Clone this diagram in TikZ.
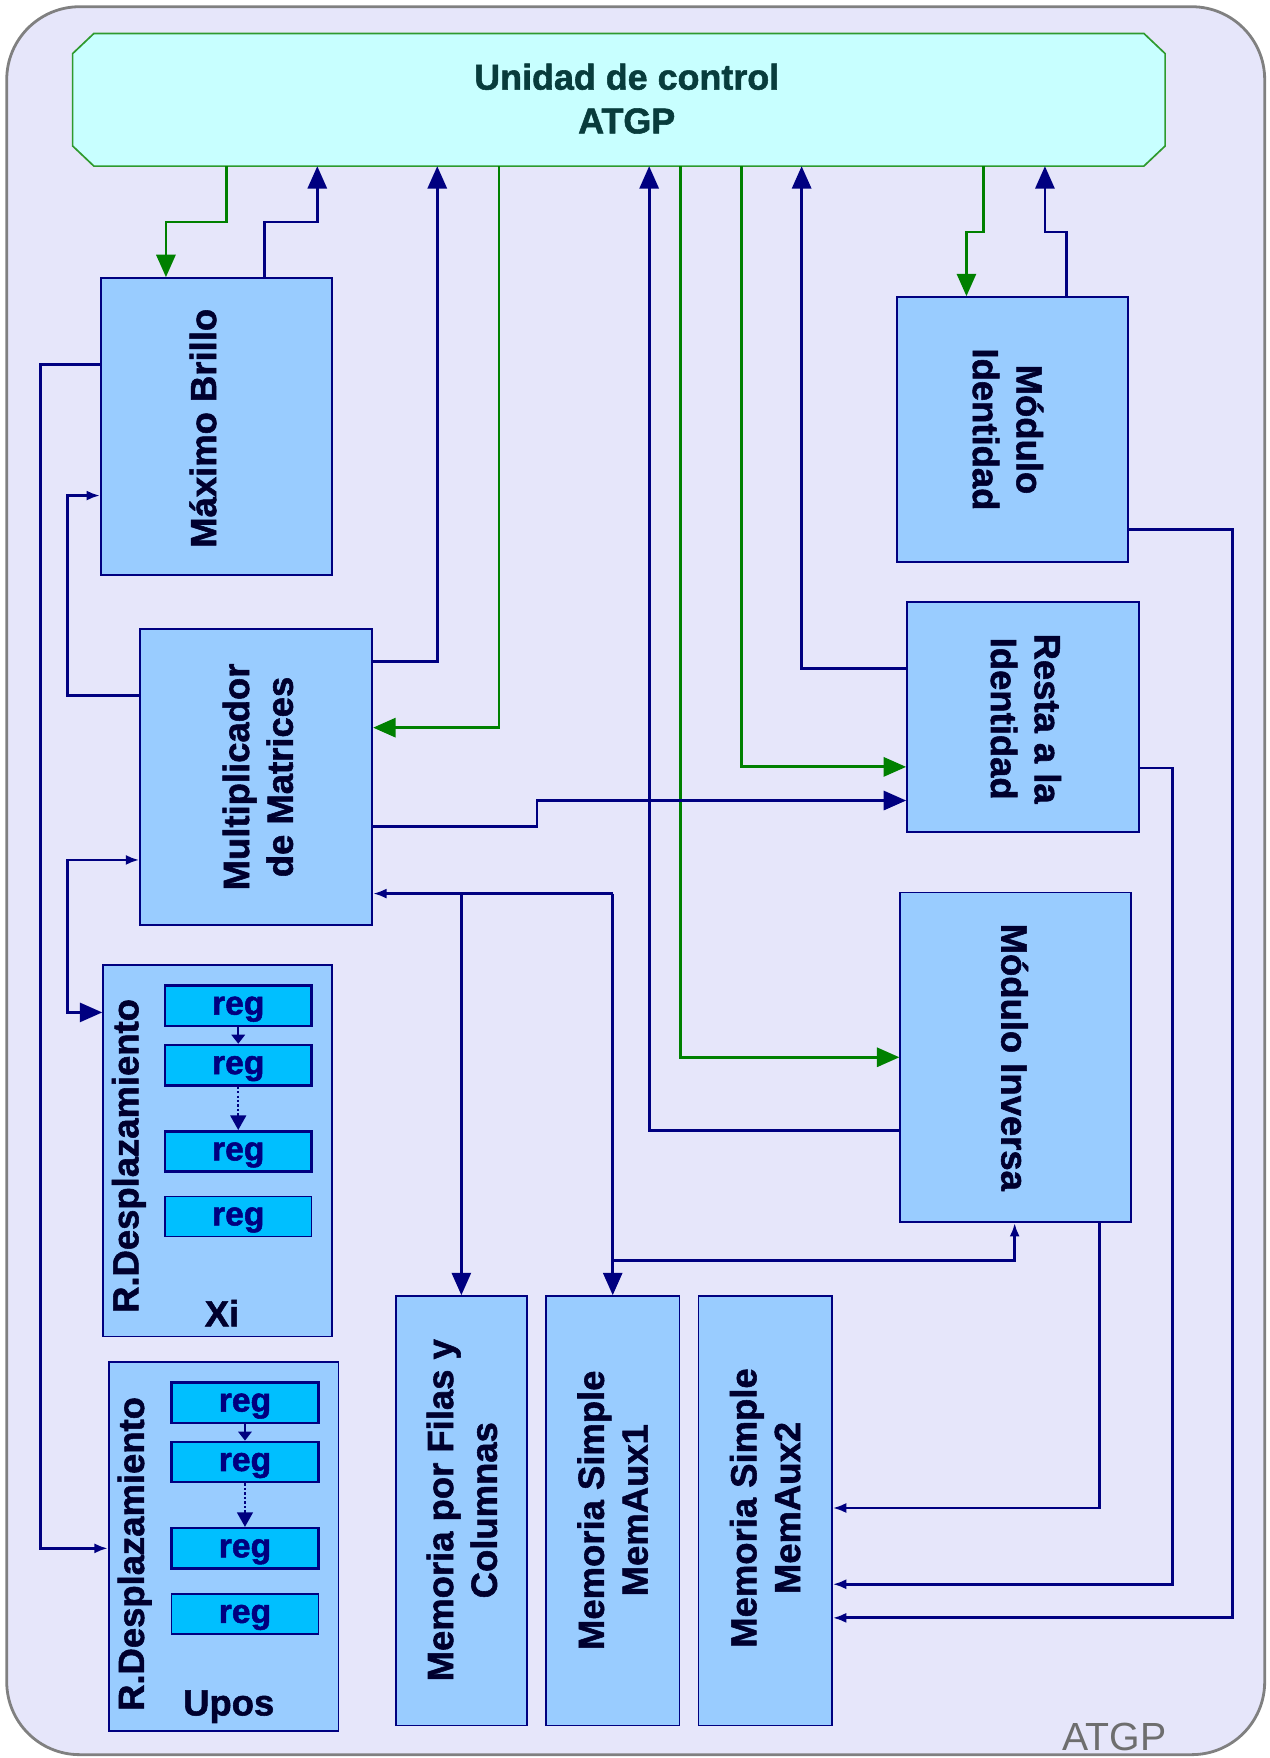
\documentclass[tikz,border=0pt]{standalone}
\usepackage{fontspec}
\setmainfont{Liberation Sans}[BoldFeatures={FakeBold=1.5}]
\usetikzlibrary{arrows.meta,calc}

\definecolor{bgfill}{HTML}{E6E6FA}
\definecolor{framegray}{HTML}{808080}
\definecolor{cufill}{HTML}{C8FFFF}
\definecolor{cuedge}{HTML}{2E9A2E}
\definecolor{blkfill}{HTML}{99CCFF}
\definecolor{navy}{HTML}{000080}
\definecolor{sig}{HTML}{008000}
\definecolor{regfill}{HTML}{00BFFF}
\definecolor{lbl}{HTML}{00002E}
\definecolor{cutext}{HTML}{083C3C}
\definecolor{markgray}{HTML}{6E6E6E}

\tikzset{
  blk/.style={draw=navy, line width=1.6pt, fill=blkfill, inner sep=0pt},
  regbox/.style={draw=navy, line width=2.2pt, fill=regfill, minimum width=131pt,
    minimum height=36pt, inner sep=0pt, text=navy,
    font=\fontsize{30}{36}\selectfont\bfseries, text height=20pt, text depth=4pt},
  lab/.style={font=\fontsize{32.5}{39}\selectfont\bfseries, text=lbl, align=center, inner sep=0pt},
  bline/.style={draw=navy, line width=2.5pt},
  gline/.style={draw=sig, line width=2.5pt},
  BigHead/.tip={Triangle[length=20pt,width=17pt]},
  SmallHead/.tip={Latex[length=12pt,width=9pt]},
  RegHead/.tip={Triangle[length=8pt,width=12pt]},
  DotHead/.tip={Triangle[length=13pt,width=14pt]},
}

\begin{document}
\begin{tikzpicture}[x=1pt,y=-1pt]
\useasboundingbox (0,0) rectangle (1132,1568);

% outer frame
\draw[fill=bgfill, draw=framegray, line width=2.5pt, rounded corners=65pt] (6,6) rectangle (1128,1565);
\node[font=\fontsize{35}{42}\selectfont, text=markgray, anchor=base, inner sep=0pt] (atgp) at (994,1561) {ATGP};

% control unit (chamfered box)
\node[minimum width=974pt, minimum height=118pt, inner sep=0pt] (cu) at (552,89) {};
\filldraw[fill=cufill, draw=cuedge, line width=1.5pt]
  ([xshift=19pt]cu.north west) -- ([xshift=-19pt]cu.north east) -- ([yshift=-18pt]cu.north east)
  -- ([yshift=18pt]cu.south east) -- ([xshift=-19pt]cu.south east) -- ([xshift=19pt]cu.south west)
  -- ([yshift=18pt]cu.south west) -- ([yshift=-18pt]cu.north west) -- cycle;
\node[lab, text=cutext, font=\fontsize{32}{39}\selectfont\bfseries] (cul) at (559,88) {Unidad de control\\ATGP};

% processing blocks
\node[blk, minimum width=206pt, minimum height=265pt] (mb) at (193,380.5) {};
\node[lab, rotate=90] (mbl) at (181,382) {Máximo Brillo};

\node[blk, minimum width=207pt, minimum height=264pt] (mm) at (228.5,693) {};
\node[lab, rotate=90] (mml) at (230,693) {Multiplicador\\de Matrices};

\node[blk, minimum width=206pt, minimum height=236pt] (mi) at (903,383) {};
\node[lab, rotate=-90] (mil) at (899,383) {Módulo\\Identidad};

\node[blk, minimum width=207pt, minimum height=205pt] (ri) at (912.5,639.5) {};
\node[lab, rotate=-90] (ril) at (915,641) {Resta a la\\Identidad};

\node[blk, minimum width=206pt, minimum height=294pt] (inv) at (906,943) {};
\node[lab, rotate=-90] (invl) at (905,943) {Módulo Inversa};

% shift registers
\node[blk, minimum width=204pt, minimum height=331pt] (xi) at (194,1026.5) {};
\node[lab, rotate=90] (xil) at (115,1031) {R.Desplazamiento};
\node[lab, anchor=base] (xin) at (198,1183) {Xi};
\node[regbox] (xr1) at (212.5,897) {reg};
\node[regbox] (xr2) at (212.5,950) {reg};
\node[regbox] (xr3) at (212.5,1027) {reg};
\node[regbox, line width=1.4pt] (xr4) at (212.5,1085) {reg};
\draw[navy, line width=1.6pt, -RegHead] (xr1.south) -- (xr2.north);
\draw[navy, line width=2pt, dotted, -DotHead] (xr2.south) -- (xr3.north);

\node[blk, minimum width=205pt, minimum height=329pt] (up) at (199.5,1379.5) {};
\node[lab, rotate=90] (upl) at (120,1386) {R.Desplazamiento};
\node[lab, anchor=base] (upn) at (204,1530) {Upos};
\node[regbox] (ur1) at (218.5,1251) {reg};
\node[regbox] (ur2) at (218.5,1304) {reg};
\node[regbox] (ur3) at (218.5,1381) {reg};
\node[regbox, line width=1.4pt] (ur4) at (218.5,1439.5) {reg};
\draw[navy, line width=1.6pt, -RegHead] (ur1.south) -- (ur2.north);
\draw[navy, line width=2pt, dotted, -DotHead] (ur2.south) -- (ur3.north);

% memories
\node[blk, minimum width=117pt, minimum height=383pt] (mf) at (411.5,1347.5) {};
\node[lab, rotate=90] (mfl) at (412,1347) {Memoria por Filas y\\Columnas};
\node[blk, minimum width=119pt, minimum height=383pt] (ma1) at (546.5,1347.5) {};
\node[lab, rotate=90] (ma1l) at (546.5,1347) {Memoria Simple\\MemAux1};
\node[blk, minimum width=119pt, minimum height=383pt] (ma2) at (682.5,1347.5) {};
\node[lab, rotate=90] (ma2l) at (682.5,1345) {Memoria Simple\\MemAux2};

% control signals (green)
\draw[gline, -BigHead] (cu.south -| 202,0) -- (202,198) -- (148,198) -- (mb.north -| 148,0);
\draw[gline, -BigHead] (cu.south -| 445,0) -- (445,649) -- (mm.east |- 0,649);
\draw[gline, -BigHead] (cu.south -| 607,0) -- (607,943) -- (inv.west |- 0,943);
\draw[gline, -BigHead] (cu.south -| 661,0) -- (661,684) -- (ri.west |- 0,684);
\draw[gline, -BigHead] (cu.south -| 877,0) -- (877,207) -- (862,207) -- (mi.north -| 862,0);

% status lines back to the control unit
\draw[bline, -BigHead] (mb.north -| 236,0) -- (236,198) -- (283,198) -- (cu.south -| 283,0);
\draw[bline, -BigHead] (mm.east |- 0,590) -- (390,590) -- (cu.south -| 390,0);
\draw[bline, -BigHead] (inv.west |- 0,1008) -- (579,1008) -- (cu.south -| 579,0);
\draw[bline, -BigHead] (ri.west |- 0,596) -- (715,596) -- (cu.south -| 715,0);
\draw[bline, -BigHead] (mi.north -| 951,0) -- (951,207) -- (932,207) -- (cu.south -| 932,0);

% data paths
\draw[bline, -BigHead] (mm.east |- 0,737) -- (479,737) -- (479,714) -- (ri.west |- 0,714);
\draw[bline, -SmallHead] (mb.west |- 0,325) -- (36,325) -- (36,1381) -- (up.west |- 0,1381);
\draw[bline, -SmallHead] (mm.west |- 0,620) -- (60,620) -- (60,442) -- (mb.west |- 0,442);
\draw[bline, BigHead-SmallHead] (xi.west |- 0,903) -- (60,903) -- (60,767) -- (mm.west |- 0,767);

% memory bus
\coordinate (bus) at (546.5,797);
\coordinate (busb) at (546.5,1124);
\draw[bline, -SmallHead] (bus) -- (mm.east |- bus);
\draw[bline, -BigHead] (bus) -- (ma1.north);
\draw[bline, -BigHead] (mf.north |- bus) -- (mf.north);
\draw[bline, -SmallHead] (busb) -- (905,1124) -- (inv.south -| 905,0);

% results into MemAux2
\draw[bline, -SmallHead] (inv.south -| 981,0) -- (981,1345) -- (ma2.east |- 0,1345);
\draw[bline, -SmallHead] (ri.east |- 0,685) -- (1046,685) -- (1046,1413) -- (ma2.east |- 0,1413);
\draw[bline, -SmallHead] (mi.east |- 0,472) -- (1099,472) -- (1099,1443) -- (ma2.east |- 0,1443);
\end{tikzpicture}
\end{document}
